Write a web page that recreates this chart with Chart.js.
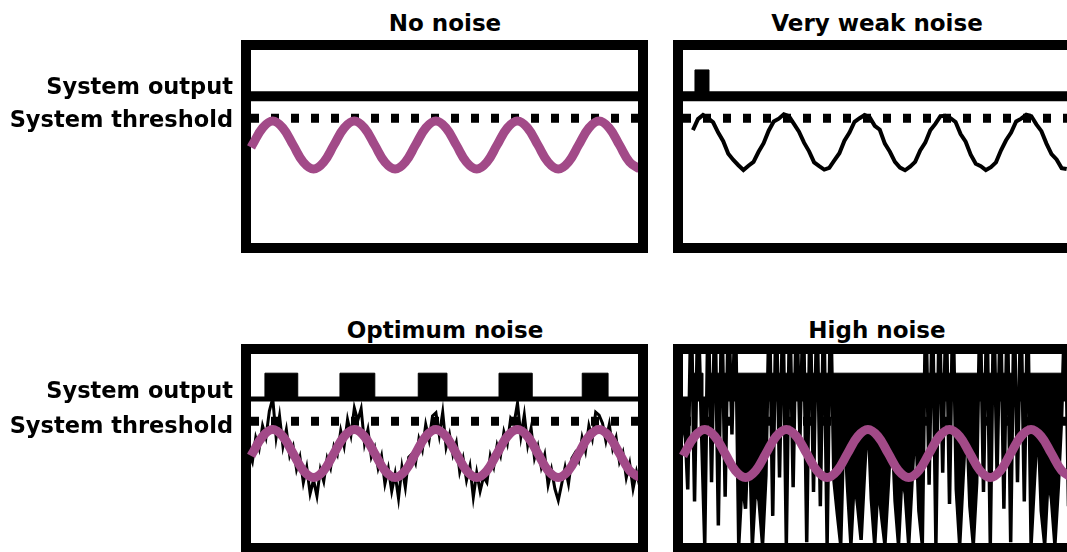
<!DOCTYPE html>
<html>
<head>
<meta charset="utf-8">
<script src="https://cdn.jsdelivr.net/npm/chart.js@4.4.1/dist/chart.umd.min.js"></script>
<style>
html, body { margin: 0; padding: 0; background: #fff; }
body { position: relative; width: 1067px; height: 552px; overflow: hidden; }
canvas { position: absolute; }
.title { position: absolute; width: 400px; text-align: center; font: bold 23px "DejaVu Sans"; line-height: 23px; color: #000; }
</style>
</head>
<body>
<div class="title" style="left:245px;top:12px">No noise</div>
<div class="title" style="left:677px;top:12px">Very weak noise</div>
<div class="title" style="left:245px;top:319px">Optimum noise</div>
<div class="title" style="left:677px;top:319px">High noise</div>
<canvas id="c1" width="660" height="265" style="left:0;top:0"></canvas>
<canvas id="c2" width="440" height="265" style="left:660px;top:0"></canvas>
<canvas id="c3" width="660" height="252" style="left:0;top:300px"></canvas>
<canvas id="c4" width="440" height="252" style="left:660px;top:300px"></canvas>
<script>
// ===== datos =====
const rowLabels = ['System output', 'System threshold'];
const labelLevelsTop = [2.38, 1.0];
const labelLevelsBottom = [2.57, 1.11];

const thresholdTop = 1.12;
const thresholdBottom = 1.35;

// señal periódica (violeta)
const signalT = [0, 0.16, 1.41, 2.65, 3.89, 5.14, 6.38, 7.63, 8.87, 10.11, 11.36, 12.60, 13.84, 15.09,
  16.33, 17.58, 18.82, 20.06, 21.31, 22.55, 23.79, 25.04, 26.28, 27.53, 28.77, 30.01, 31.26, 32.50,
  33.74, 34.99, 36.23, 37.48, 38.72, 39.96, 41.21, 42.45, 43.69, 44.94, 46.18, 47.43];
const signalY = [-0.10, 0, 0.71, 1, 0.71, 0, -0.71, -1, -0.71, 0, 0.71, 1, 0.71, 0, -0.71, -1, -0.71,
  0, 0.71, 1, 0.71, 0, -0.71, -1, -0.71, 0, 0.71, 1, 0.71, 0, -0.71, -1, -0.71, 0, 0.71, 1, 0.71, 0, -0.71, -1];

// ruido muy débil (muestras cada 0.616 desde 1.21)
const weakStart = 1.21, weakStep = 0.616;
const weakY = [0.62, 1.08, 1.25, 1.12, 0.95, 0.52, 0.16, -0.36, -0.62, -0.84, -1.04, -0.86, -0.70, -0.28,
  0.08, 0.60, 0.98, 1.10, 1.28, 1.20, 0.88, 0.56, 0.10, -0.26, -0.72, -0.88, -1.02, -0.95, -0.64, -0.34,
  0.18, 0.52, 0.97, 1.12, 1.25, 1.16, 0.80, 0.64, 0.06, -0.28, -0.70, -0.94, -1.05, -0.90, -0.70, -0.22,
  0.10, 0.62, 0.88, 1.20, 1.22, 1.12, 0.96, 0.46, 0.14, -0.40, -0.78, -0.88, -1.04, -0.92, -0.72, -0.22,
  0.20, 0.52, 0.98, 1.10, 1.26, 1.20, 0.86, 0.58, 0.06, -0.38, -0.60, -0.96, -1.00];

// ruido óptimo y ruido alto (muestras cada 0.4146 desde -0.25)
const noiseStart = -0.25, noiseStep = 0.4146;
const optimumY = [0.04, -0.35, 0.66, 0.2, 1.16, 0.67, 1.77, 2.3, 0.67, 1.57, 0.31, 1.0, -0.09, 0.3, -0.66, -0.15,
  -1.21, -0.57, -1.67, -1.1, -1.77, -0.67, -1.16, -0.2,
  -0.61, 0.3, -0.04, 0.95, 0.31, 1.42, 0.77, 1.9, 1.37, 1.87, 0.41, 1.0, -0.14, 0.25, -0.61, -0.1,
  -1.26, -0.62, -1.57, -0.85, -1.87, -0.57, -1.41, -0.15,
  -0.01, -0.4, 0.61, 0.15, 1.21, 0.57, 1.57, 1.7, 0.77, 1.72, 0.26, 0.8, -0.04, 0.45, -0.76, -0.2,
  -1.11, -0.52, -1.82, -0.8, -1.57, -0.97, -1.21, -0.1,
  -0.56, 0.35, -0.09, 0.9, 0.41, 1.47, 1.27, 2.1, 0.72, 1.62, 0.36, 1.05, -0.19, 0.3, -0.56, -0.05,
  -1.31, -0.67, -1.47, -1.95, -1.27, -0.57, -1.26, -0.2,
  0.04, -0.3, 0.66, 0.1, 1.16, 0.62, 1.72, 1.6, 1.27, 0.52, 1.21, 0.2, 0.66, -0.35, 0.04, -1.0,
  -0.41, -1.47, -0.77, -1.4];
// los picos de 6.5 salen por encima del marco (recortados)
const highY = [0.5, 1.7, -1.5, 6.5, -2.0, 6.5, 1.2, -3.8, 6.5, -1.2,
  6.5, -3.0, 6.5, -1.8, 6.5, 0.8, 6.5, -3.8, -1.1, -2.3,
  1.6, -3.8, -1.3, -2.0, -3.8, -0.9, 6.5, -2.6, 6.5, -1.0,
  6.5, -3.8, 6.5, -1.4, 6.5, 0.6, 6.5, -3.7, 6.5, -1.6,
  6.5, -2.2, 6.5, -3.8, 6.5, -1.1, -2.5, -3.8, 1.5, -1.4,
  -3.8, -1.0, -2.2, -3.6, -0.8, 1.7, -1.9, -3.8, -1.2, -2.6,
  -3.8, -1.3, 1.4, -2.0, -3.8, -0.9, -1.7, -3.8, -1.1, 1.6,
  -2.4, -3.8, 6.5, -1.3, 6.5, -3.8, 6.5, -0.8, 6.5, -2.1,
  6.5, -1.5, -3.8, -1.0, 1.7, -2.2, -3.8, -1.2, 6.5, -1.6,
  6.5, -3.8, 6.5, -0.9, 6.5, -2.3, 6.5, -3.7, 6.5, -1.2,
  6.5, -2.0, 6.5, -3.8, -1.1, 1.5, -2.4, -3.8, -1.0, -1.9,
  -3.8, -1.4, 1.6, 6.5, -2.2, 6.5];

// salida del sistema (escalones)
const out1T = [0, 47.2], out1Y = [2.03, 2.03];
const out2T = [0, 1.46, 3.17, 47.2], out2Y = [2.03, 3.13, 2.03, 2.03];
const out3T = [0, 1.7, 5.7, 10.85, 15.1, 20.4, 23.9, 30.25, 34.3, 40.4, 43.55, 47.2];
const out3Y = [2.27, 3.35, 2.27, 3.35, 2.27, 3.35, 2.27, 3.35, 2.27, 3.35, 2.27, 2.27];
const out4T = [0, 1.1, 2.44, 3.05, 40.3, 41.0, 47.2];
const out4Y = [2.27, 3.35, 2.27, 3.35, 2.27, 3.35, 3.35];

const X_MAX = 47.2;
const PURPLE = '#A24A88';

function pts(ts, ys) { return ys.map((y, i) => ({ x: ts[i], y: y })); }
function sampled(start, step, ys) { return ys.map((y, i) => ({ x: start + i * step, y: y })); }

// marco negro grueso alrededor del área del gráfico
const framePlugin = {
  id: 'panelFrame',
  beforeDatasetsDraw(chart) {
    const a = chart.chartArea, ctx = chart.ctx;
    ctx.save();
    ctx.lineWidth = 10;
    ctx.strokeStyle = '#000';
    ctx.strokeRect(a.left - 5, a.top - 5, a.right - a.left + 10, a.bottom - a.top + 10);
    ctx.restore();
  }
};

function makePanel(id, opt) {
  const datasets = [];
  if (opt.showSignal) {
    datasets.push({ data: pts(signalT, signalY), borderColor: PURPLE, borderWidth: 9, tension: 0.4,
      pointRadius: 0, order: 0, clip: { left: 6, right: 0, top: 0, bottom: 0 } });
  }
  if (opt.noise) {
    datasets.push({ data: opt.noise, borderColor: '#000', borderWidth: opt.noiseWidth, tension: 0,
      pointRadius: 0, order: 1, clip: 0, borderJoinStyle: 'miter',
      backgroundColor: '#000', fill: opt.noiseFill === undefined ? false : { value: opt.noiseFill } });
  }
  datasets.push({ data: [{ x: 0, y: opt.threshold }, { x: X_MAX, y: opt.threshold }], borderColor: '#000',
    borderWidth: 9, borderDash: [8, 12], borderCapStyle: 'butt', pointRadius: 0, order: 2, clip: 0 });
  datasets.push({ data: opt.output, stepped: 'before', borderColor: '#000', borderWidth: 1,
    backgroundColor: '#000', fill: { value: opt.outLow }, pointRadius: 0, order: 3, clip: 0 });
  datasets.push({ data: [{ x: 0, y: opt.outLow }, { x: X_MAX, y: opt.outLow }], borderColor: '#000',
    borderWidth: opt.baseWidth, pointRadius: 0, order: 3, clip: 0 });

  const yAxis = { type: 'linear', min: opt.yMin, max: opt.yMax, display: !!opt.labels };
  if (opt.labels) {
    Object.assign(yAxis, {
      grid: { display: false, drawTicks: false },
      border: { display: false },
      afterBuildTicks: s => { s.ticks = opt.labelLevels.map(v => ({ value: v })); },
      afterFit: s => { s.width = 251; s.paddingTop = 0; s.paddingBottom = 0; },
      ticks: { padding: 18, color: '#000', autoSkip: false,
        font: { family: 'DejaVu Sans', weight: 'bold', size: 22.5 },
        callback: (v, i) => opt.labels[i] }
    });
  }

  new Chart(document.getElementById(id), {
    type: 'line',
    data: { datasets: datasets },
    options: {
      responsive: false,
      animation: false,
      layout: { padding: opt.padding },
      plugins: { legend: { display: false }, tooltip: { enabled: false } },
      scales: {
        x: { type: 'linear', min: 0, max: X_MAX, display: false },
        y: yAxis
      }
    },
    plugins: [framePlugin]
  });
}

makePanel('c1', { showSignal: true, threshold: thresholdTop, output: pts(out1T, out1Y), outLow: 2.03,
  baseWidth: 10, yMin: -4.08, yMax: 3.96, labels: rowLabels, labelLevels: labelLevelsTop,
  padding: { left: 0, right: 22, top: 50, bottom: 22 } });
makePanel('c2', { showSignal: false, noise: sampled(weakStart, weakStep, weakY), noiseWidth: 4,
  threshold: thresholdTop, output: pts(out2T, out2Y), outLow: 2.03, baseWidth: 10, yMin: -4.08, yMax: 3.96,
  padding: { left: 23, right: 30, top: 50, bottom: 22 } });
makePanel('c3', { showSignal: true, noise: sampled(noiseStart, noiseStep, optimumY), noiseWidth: 3,
  threshold: thresholdBottom, output: pts(out3T, out3Y), outLow: 2.27, baseWidth: 5, yMin: -3.73, yMax: 4.15,
  labels: rowLabels, labelLevels: labelLevelsBottom,
  padding: { left: 0, right: 22, top: 54, bottom: 9 } });
makePanel('c4', { showSignal: true, noise: sampled(noiseStart, noiseStep, highY), noiseWidth: 3.5,
  noiseFill: 2.27,
  threshold: thresholdBottom, output: pts(out4T, out4Y), outLow: 2.27, baseWidth: 5, yMin: -3.73, yMax: 4.15,
  padding: { left: 23, right: 30, top: 54, bottom: 9 } });
</script>
</body>
</html>
